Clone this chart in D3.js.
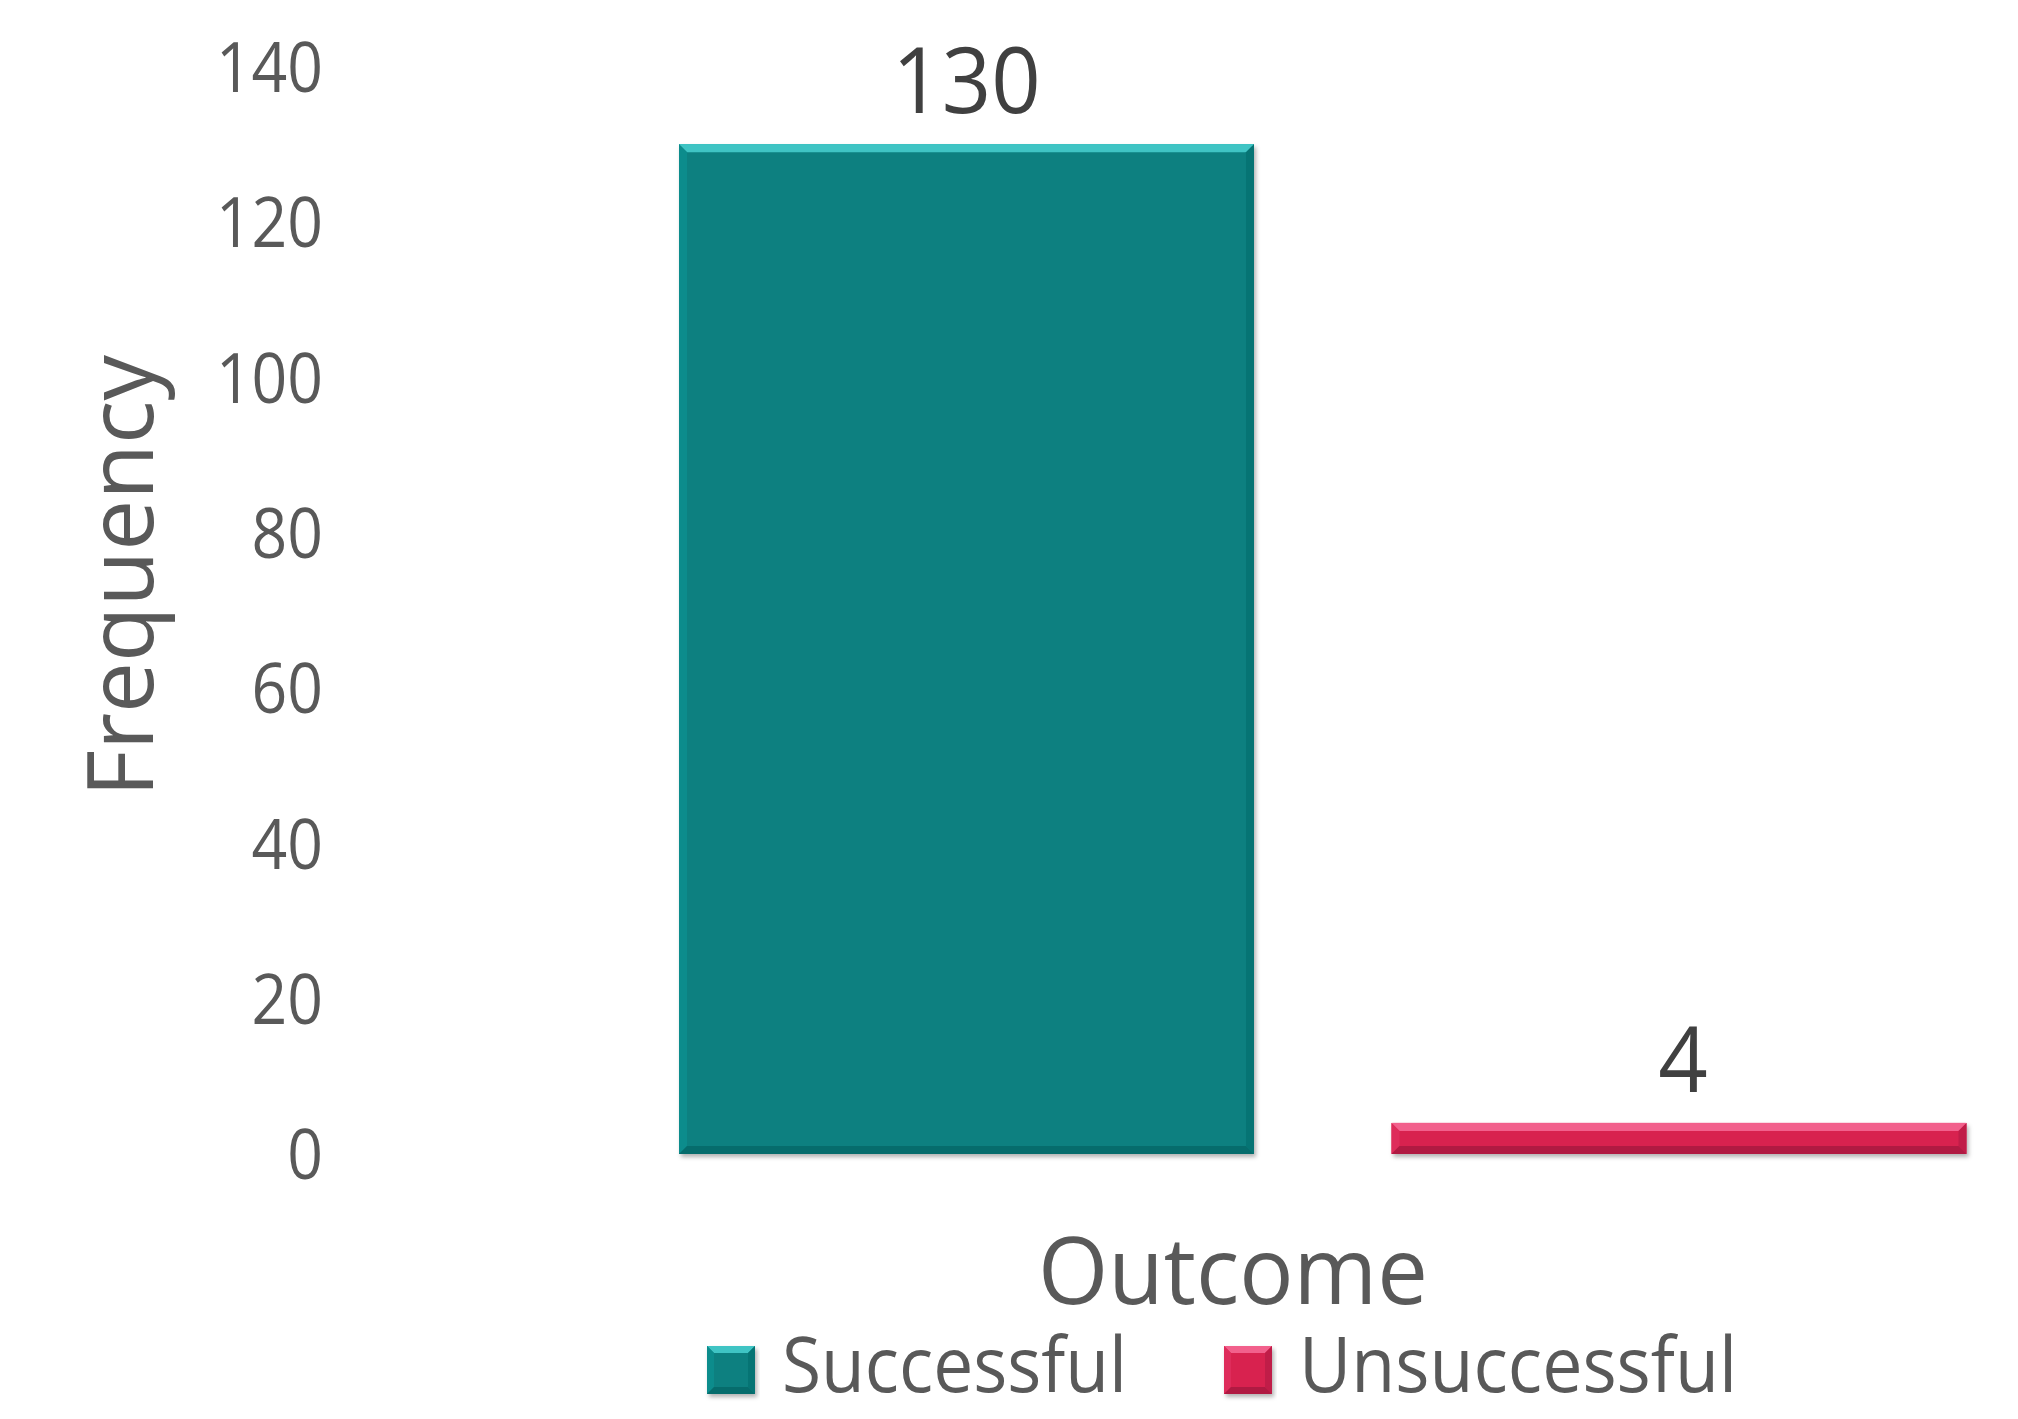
<!DOCTYPE html>
<html>
<head>
<meta charset="utf-8">
<script src="https://cdn.jsdelivr.net/npm/d3@7"></script>
<style>
  html, body { margin: 0; padding: 0; background: #ffffff; }
  svg { display: block; font-family: "Open Sans", "DejaVu Sans", sans-serif; }
</style>
</head>
<body>
<svg id="chart" width="2018" height="1419"></svg>
<script>
// ---- data ----
const categories = ["Successful", "Unsuccessful"];
const values = [130, 4];
const yTicks = [0, 20, 40, 60, 80, 100, 120, 140];
const xTitle = "Outcome";
const yTitle = "Frequency";

// ---- styling ----
const palette = {
  Successful:   { base: "#078080", top: "#3fc4c4", left: "#0c8c8c", right: "#067474", bottom: "#066c6c" },
  Unsuccessful: { base: "#d82150", top: "#f2608c", left: "#de2c5b", right: "#c01d48", bottom: "#b01a42" }
};
const textGrey = "#595959";
const labelGrey = "#404040";

const svg = d3.select("#chart");

const defs = svg.append("defs");
const f = defs.append("filter").attr("id", "shadow")
  .attr("x", "-5%").attr("y", "-5%").attr("width", "115%").attr("height", "130%");
f.append("feDropShadow").attr("dx", 2).attr("dy", 3).attr("stdDeviation", 2)
  .attr("flood-color", "#000").attr("flood-opacity", 0.3);

// ---- scales ----
const y = d3.scaleLinear().domain([0, 140]).range([1154, 66.5]);
const x = d3.scaleBand().domain(categories).range([679, 1966.5])
  .paddingInner(0.193).paddingOuter(0);

// ---- y axis ----
const yAxis = d3.axisLeft(y).tickValues(yTicks).tickSize(0).tickPadding(0)
  .tickFormat(d3.format("d"));
const gy = svg.append("g").attr("transform", "translate(323,0)").call(yAxis);
gy.select(".domain").remove();
gy.selectAll("text")
  .attr("fill", textGrey)
  .attr("font-size", 69)
  .attr("font-family", "'Open Sans', sans-serif")
  .attr("dy", "0.36em")
  .attr("x", 0)
  .each(function(d) {
    const s = String(d);
    d3.select(this).attr("textLength", s.length * 35.7).attr("lengthAdjust", "spacingAndGlyphs");
  });

// ---- bevelled bar helper ----
function bevelRect(g, x0, y0, w, h, c, b) {
  const x1 = x0 + w, y1 = y0 + h;
  const bb = Math.min(b, h / 2, w / 2);
  g.append("rect").attr("x", x0).attr("y", y0).attr("width", w).attr("height", h)
    .attr("fill", c.base).attr("filter", "url(#shadow)");
  const poly = (pts, fill) => g.append("polygon")
    .attr("points", pts.map(p => p.join(",")).join(" ")).attr("fill", fill);
  poly([[x0, y0], [x1, y0], [x1 - bb, y0 + bb], [x0 + bb, y0 + bb]], c.top);
  poly([[x0, y0], [x0 + bb, y0 + bb], [x0 + bb, y1 - bb], [x0, y1]], c.left);
  poly([[x1, y0], [x1, y1], [x1 - bb, y1 - bb], [x1 - bb, y0 + bb]], c.right);
  poly([[x0, y1], [x0 + bb, y1 - bb], [x1 - bb, y1 - bb], [x1, y1]], c.bottom);
  g.append("line").attr("x1", x0 + 1).attr("x2", x1 - 1).attr("y1", y0 + 0.5).attr("y2", y0 + 0.5)
    .attr("stroke", c.top).attr("stroke-width", 1);
}

// ---- bars ----
const barsG = svg.append("g");
categories.forEach((cat, i) => {
  const g = barsG.append("g");
  const x0 = x(cat), w = x.bandwidth();
  const y0 = y(values[i]), h = y(0) - y(values[i]);
  bevelRect(g, x0, y0, w, h, palette[cat], 8);
});

// ---- data labels ----
svg.append("g").selectAll("text").data(categories).join("text")
  .attr("x", d => x(d) + x.bandwidth() / 2 + (values[categories.indexOf(d)] < 10 ? 4 : 0))
  .attr("y", d => y(values[categories.indexOf(d)]) - 31)
  .attr("text-anchor", "middle")
  .attr("fill", labelGrey)
  .attr("font-size", 92)
  .text(d => values[categories.indexOf(d)])
  .each(function(d) {
    const s = String(values[categories.indexOf(d)]);
    d3.select(this).attr("textLength", s.length * 49.5).attr("lengthAdjust", "spacingAndGlyphs");
  });

// ---- axis titles ----
svg.append("text")
  .attr("x", 1233).attr("y", 1304)
  .attr("text-anchor", "middle")
  .attr("fill", textGrey)
  .attr("font-size", 94)
  .attr("textLength", 390).attr("lengthAdjust", "spacingAndGlyphs")
  .text(xTitle);

svg.append("text")
  .attr("transform", "translate(153,576) rotate(-90)")
  .attr("text-anchor", "middle")
  .attr("fill", textGrey)
  .attr("font-size", 91)
  .attr("textLength", 442).attr("lengthAdjust", "spacingAndGlyphs")
  .text(yTitle);

// ---- legend ----
const legendX = [707, 1224];
const legendTextW = [345, 438];
const lg = svg.append("g");
categories.forEach((cat, i) => {
  const g = lg.append("g");
  bevelRect(g, legendX[i], 1346, 48, 48, palette[cat], 7);
  g.append("text")
    .attr("x", legendX[i] + 75).attr("y", 1392)
    .attr("fill", textGrey)
    .attr("font-size", 76)
    .attr("textLength", legendTextW[i]).attr("lengthAdjust", "spacingAndGlyphs")
    .text(cat);
});
</script>
</body>
</html>
